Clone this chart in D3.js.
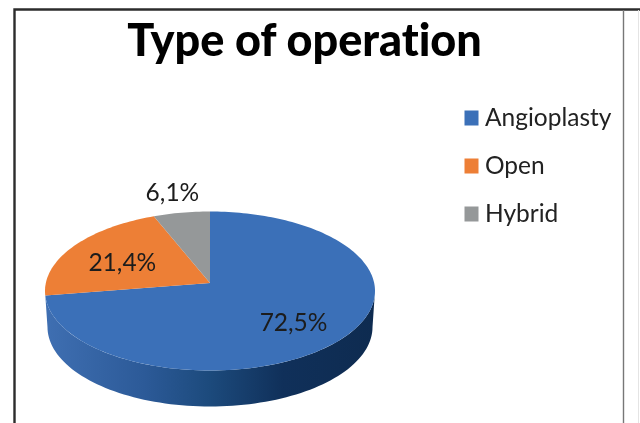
<!DOCTYPE html>
<html><head><meta charset="utf-8">
<script src="https://cdn.jsdelivr.net/npm/d3@7"></script>
<style>html,body{margin:0;padding:0;background:#fff;overflow:hidden}svg{display:block;filter:blur(0.45px)}text{font-family:Lato,"Open Sans",sans-serif;font-variant-ligatures:none}</style>
</head><body>
<script>
const chartTitle = "Type of operation";
const categories = ["Angioplasty", "Open", "Hybrid"];
const values = [72.5, 21.4, 6.1];
const valueLabels = ["72,5%", "21,4%", "6,1%"];
const colors = ["#3b70b8", "#ed7f36", "#959899"];

const W = 640, H = 423;
const svg = d3.select("body").append("svg").attr("width", W).attr("height", H);

// Frame
svg.append("rect").attr("width", W).attr("height", H).attr("fill", "#fff");
svg.append("path").attr("d", `M14.5 423V9.5H640`).attr("fill", "none").attr("stroke", "#2c2c2c").attr("stroke-width", 2.4);
svg.append("line").attr("x1", 623.5).attr("x2", 623.5).attr("y1", 10).attr("y2", 423).attr("stroke", "#777").attr("stroke-width", 1.4);
svg.append("line").attr("x1", 638.5).attr("x2", 638.5).attr("y1", 10).attr("y2", 423).attr("stroke", "#e4e4e4").attr("stroke-width", 1);

svg.append("text").text(chartTitle).attr("x", 304.5).attr("y", 56)
  .attr("text-anchor", "middle").attr("font-size", 45).attr("font-weight", 900).attr("fill", "#000");

// Normalised disc coordinates to pixels
const sx = d3.scaleLinear().domain([-1, 1]).range([45, 375]);
const sy = d3.scaleLinear().domain([-1, 1]).range([370.5, 211.5]);
const tilt = 0.1; // perspective: the apex sits behind the ellipse centre
const project = (r, a) => {
  const u = r * Math.sin(a), v = r * Math.cos(a), d = 1 + tilt * v;
  return [sx(u * Math.sqrt(1 - tilt * tilt) / d), sy((v + tilt) / d)];
};
const lineGen = d3.line();
const pieData = d3.pie().sort(null).value(d => d)(values);

// Side wall
const defs = svg.append("defs");
const grad = defs.append("linearGradient").attr("id", "wall");
[[0, "#3f6fb2"], [0.3, "#2c5a98"], [0.5, "#1c4a7c"], [0.72, "#10305a"], [1, "#0e2b50"]]
  .forEach(([o, c]) => grad.append("stop").attr("offset", o).attr("stop-color", c));
const steps = d3.range(0, 1.0001, 1 / 90).map(t => t * Math.PI);
const upperEdge = steps.map(t => [sx(Math.cos(t)), sy(-Math.sin(t))]);
const lowerEdge = steps.map(t => [sx(Math.cos(t) * 0.985), sy(-Math.sin(t)) + 36]);
svg.append("path").attr("d", lineGen(upperEdge.concat(lowerEdge.reverse())) + "Z").attr("fill", "url(#wall)");

// Top faces
svg.selectAll("path.slice").data(pieData).join("path").attr("class", "slice")
  .attr("fill", (d, i) => colors[i])
  .attr("d", d => {
    const n = Math.ceil((d.endAngle - d.startAngle) * 40);
    const rim = d3.range(n + 1).map(k => project(1, d.startAngle + (d.endAngle - d.startAngle) * k / n));
    return lineGen([project(0, 0), ...rim]) + "Z";
  });

// Data labels: radial position on the disc plus a small nudge
const labelPlace = [{r: 0.7, dx: -8, dy: 1}, {r: 0.7, dx: 9, dy: 5}, {r: 1.2, dx: -4, dy: -9}];
svg.selectAll("text.val").data(pieData).join("text").attr("class", "val")
  .text((d, i) => valueLabels[i])
  .attr("text-anchor", "middle").attr("dominant-baseline", "central")
  .attr("font-size", 24.5).attr("fill", "#1c1c1c")
  .attr("x", (d, i) => project(labelPlace[i].r, (d.startAngle + d.endAngle) / 2)[0] + labelPlace[i].dx)
  .attr("y", (d, i) => project(labelPlace[i].r, (d.startAngle + d.endAngle) / 2)[1] + labelPlace[i].dy);

// Legend
const ly = d3.scalePoint().domain(categories).range([118, 214]);
const legend = svg.selectAll("g.leg").data(categories).join("g").attr("class", "leg")
  .attr("transform", d => `translate(464,${ly(d)})`);
legend.append("rect").attr("x", 0.5).attr("y", -7.5).attr("width", 14).attr("height", 15).attr("fill", (d, i) => colors[i]);
legend.append("text").text(d => d).attr("x", 21).attr("y", -2).attr("dominant-baseline", "central")
  .attr("font-size", 24.5).attr("fill", "#222");
</script>
</body></html>
